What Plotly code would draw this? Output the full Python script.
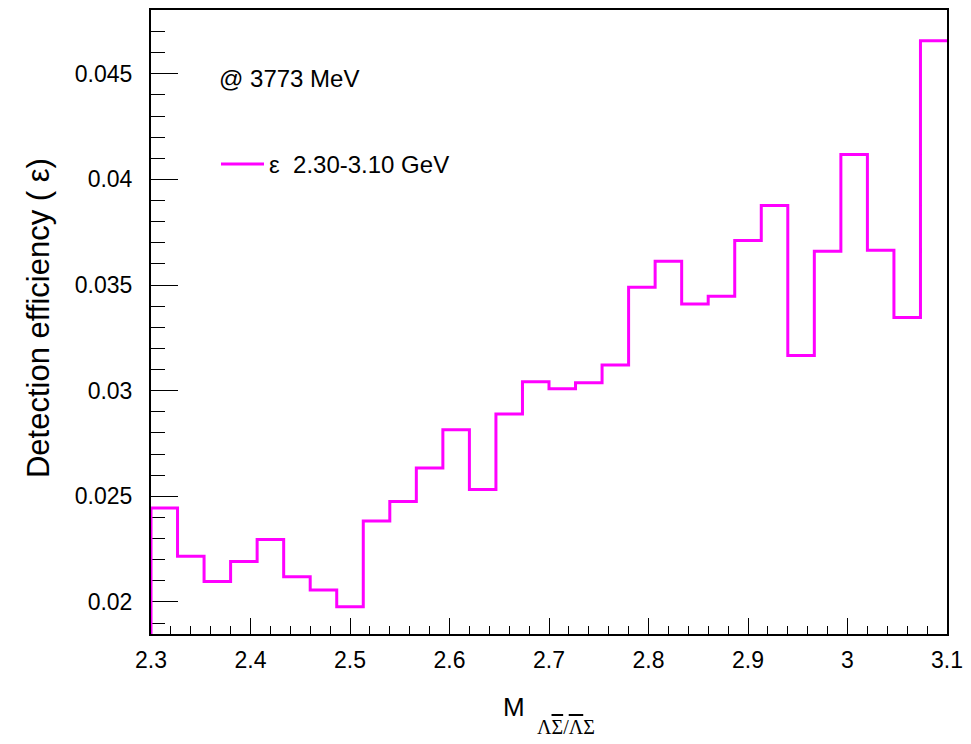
import plotly.graph_objects as go

# ---- data ----
x_low, x_high = 2.3, 3.1
efficiency = [0.02444, 0.02216, 0.02097, 0.02191, 0.02295, 0.02119, 0.02056, 0.01977,
              0.02383, 0.02475, 0.02634, 0.02815, 0.02532, 0.02890, 0.03042, 0.03009,
              0.03038, 0.03121, 0.03489, 0.03612, 0.03410, 0.03447, 0.03711, 0.03876,
              0.03167, 0.03660, 0.04118, 0.03665, 0.03346, 0.04657]
y_range = [0.01848, 0.04802]
legend_label = "ε\u00a0\u00a02.30-3.10 GeV"
energy_label = "@ 3773 MeV"

n = len(efficiency)
width = (x_high - x_low) / n
edges = [x_low + i * width for i in range(n + 1)]

xs = [x_low] + edges
ys = [y_range[0]] + efficiency + [efficiency[-1]]

FONT = "Liberation Sans, Arial, Helvetica, sans-serif"
SERIF = "Liberation Serif, Times New Roman, serif"

fig = go.Figure()
fig.add_trace(go.Scatter(
    x=xs, y=ys, mode="lines", line=dict(color="#ff00ff", width=3, shape="hv"),
    name=legend_label, showlegend=True, hoverinfo="skip"))

W, H = 971, 744
L, R, T, B = 151, 24, 8, 110
pw, ph = W - L - R, H - T - B

def px_x(px):
    return (px - L) / pw

def px_y(py):
    return (H - B - py) / ph

fig.update_layout(
    width=W, height=H,
    margin=dict(l=L, r=R, t=T, b=B, pad=0),
    paper_bgcolor="white", plot_bgcolor="white",
    font=dict(family=FONT, color="black"),
    showlegend=True,
    legend=dict(x=px_x(216), y=px_y(163), xanchor="left", yanchor="middle",
                bgcolor="rgba(0,0,0,0)", font=dict(size=24, family=FONT),
                itemwidth=43, tracegroupgap=0),
    xaxis=dict(range=[x_low, x_high], showgrid=False, zeroline=False,
               showline=True, mirror=True, linecolor="black", linewidth=2,
               ticks="inside", ticklen=16, tickcolor="black", tickwidth=1,
               dtick=0.1, tick0=0, tickfont=dict(size=23, family=FONT),
               ticklabelstandoff=4, layer="below traces",
               minor=dict(ticks="inside", ticklen=8, dtick=0.02, tick0=0,
                          tickcolor="black", tickwidth=1, showgrid=False)),
    yaxis=dict(range=y_range, showgrid=False, zeroline=False,
               showline=True, mirror=True, linecolor="black", linewidth=2,
               ticks="inside", ticklen=27, tickcolor="black", tickwidth=1,
               dtick=0.005, tick0=0, tickfont=dict(size=23, family=FONT),
               ticklabelstandoff=12, layer="below traces",
               minor=dict(ticks="inside", ticklen=14, dtick=0.001, tick0=0,
                          tickcolor="black", tickwidth=1, showgrid=False)),
)

# y axis title
fig.add_annotation(
    xref="paper", yref="paper", x=px_x(38), y=px_y(317),
    text="Detection efficiency ( ε)", textangle=-90, showarrow=False,
    xanchor="center", yanchor="middle", font=dict(size=31, family=FONT))

# x axis title: M with a lowered serif subscript
fig.add_annotation(
    xref="paper", yref="paper", x=px_x(501), y=px_y(707),
    text="M", showarrow=False, xanchor="left", yanchor="middle",
    font=dict(size=26, family=FONT))
ov = "<span style='text-decoration:overline'>{}</span>"
sub = "Λ" + ov.format("Σ") + "/" + ov.format("Λ") + "Σ"
fig.add_annotation(
    xref="paper", yref="paper", x=px_x(535), y=px_y(727),
    text=sub, showarrow=False, xanchor="left", yanchor="middle",
    font=dict(size=20, family=SERIF))

# energy label
fig.add_annotation(
    xref="paper", yref="paper", x=px_x(217), y=px_y(77),
    text=energy_label, showarrow=False, xanchor="left", yanchor="middle",
    font=dict(size=24, family=FONT))

fig.write_html("out.html")
